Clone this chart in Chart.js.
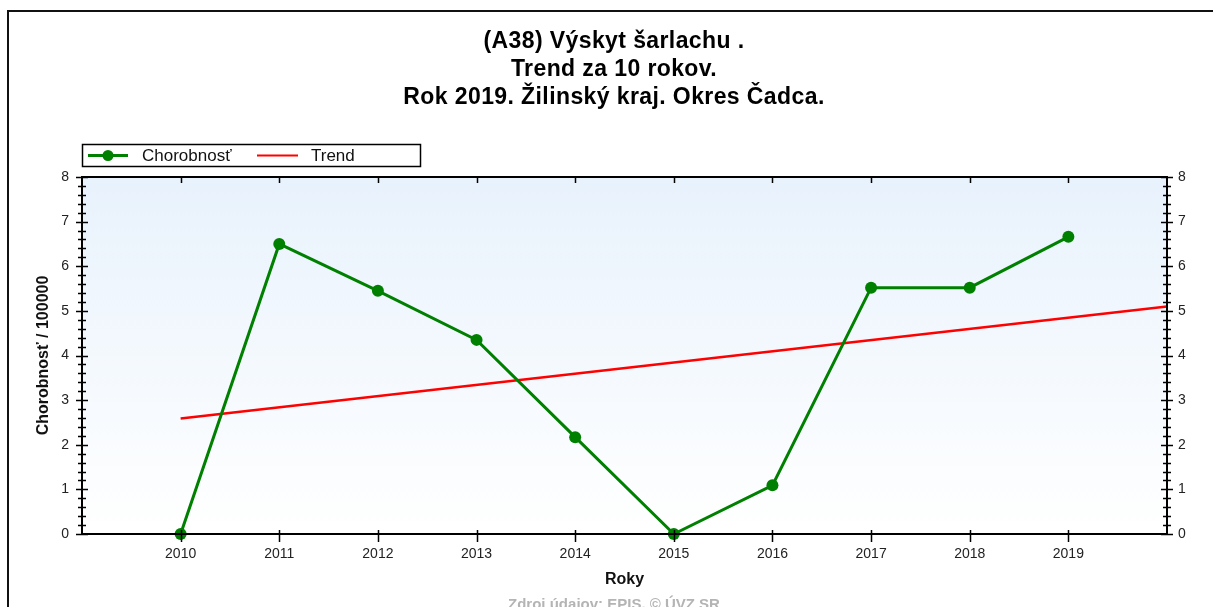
<!DOCTYPE html>
<html lang="sk">
<head>
  <meta charset="UTF-8" />
  <title>Výskyt šarlachu - Okres Čadca</title>
  <script src="https://cdn.jsdelivr.net/npm/chart.js"></script>
  <style>
    html, body { margin: 0; padding: 0; background: #fff; }
    .wrap { width: 1213px; height: 607px; }
  </style>
</head>
<body>

<div class="wrap">
  <canvas id="trendChart" width="1213" height="607" role="img" aria-label="Výskyt šarlachu, trend za 10 rokov"></canvas>
</div>

<script>
  const years = [2010, 2011, 2012, 2013, 2014, 2015, 2016, 2017, 2018, 2019];
  const morbidity = [0, 6.5, 5.45, 4.35, 2.17, 0, 1.09, 5.52, 5.52, 6.66];
  const trendYears = [2010, 2020];
  const trendValues = [2.59, 5.1];
  const yTicks = [0, 1, 2, 3, 4, 5, 6, 7, 8];

  const titleLines = ['(A38) Výskyt šarlachu .', 'Trend za 10 rokov.', 'Rok 2019. Žilinský kraj. Okres Čadca.'];
  const legendItems = ['Chorobnosť', 'Trend'];
  const sourceText = 'Zdroj údajov: EPIS, © ÚVZ SR';

  const FONT = '"Liberation Sans", Arial, sans-serif';
  const GREEN = '#008000';
  const RED = '#ff0000';

  // frame, title, background, axes with minor ticks, legend box, footer
  const decor = {
    id: 'decor',
    beforeDatasetsDraw(chart) {
      const { ctx, chartArea: a } = chart;
      const g = ctx.createLinearGradient(0, a.top, 0, a.bottom);
      g.addColorStop(0, '#e8f2fc');
      g.addColorStop(1, '#ffffff');
      ctx.save();
      ctx.fillStyle = g;
      ctx.fillRect(a.left, a.top, a.right - a.left, a.bottom - a.top);
      ctx.restore();
    },
    afterDraw(chart) {
      const { ctx, chartArea: a, scales } = chart;
      ctx.save();

      // outer frame
      ctx.strokeStyle = '#111';
      ctx.lineWidth = 2;
      ctx.beginPath();
      ctx.moveTo(8, 607);
      ctx.lineTo(8, 11);
      ctx.lineTo(1213, 11);
      ctx.stroke();

      // title
      ctx.fillStyle = '#000';
      ctx.font = 'bold 23px ' + FONT;
      ctx.textAlign = 'center';
      ctx.textBaseline = 'middle';
      ctx.letterSpacing = '0.4px';
      titleLines.forEach((t, i) => ctx.fillText(t, 614, 42 + i * 28));
      ctx.letterSpacing = '0px';

      // axes box
      ctx.strokeStyle = '#000';
      ctx.lineWidth = 2;
      ctx.strokeRect(a.left, a.top, a.right - a.left, a.bottom - a.top);

      // y ticks, both sides
      ctx.lineWidth = 1.5;
      const y = scales.y;
      for (let v = 0; v <= 8.0001; v += 0.2) {
        const py = Math.round(y.getPixelForValue(v)) + 0.5;
        const major = Math.abs(v - Math.round(v)) < 0.001;
        const len = major ? 6 : 4;
        ctx.beginPath();
        ctx.moveTo(a.left - len, py);
        ctx.lineTo(a.left + len, py);
        ctx.moveTo(a.right - len, py);
        ctx.lineTo(a.right + len, py);
        ctx.stroke();
      }

      // x ticks, bottom and top
      const x = scales.x;
      for (let yr = 2010; yr <= 2019; yr++) {
        const px = Math.round(x.getPixelForValue(yr)) + 0.5;
        ctx.beginPath();
        ctx.moveTo(px, a.bottom - 4);
        ctx.lineTo(px, a.bottom + 8);
        ctx.moveTo(px, a.top);
        ctx.lineTo(px, a.top + 6);
        ctx.stroke();
      }

      // legend
      ctx.lineWidth = 1.5;
      ctx.strokeStyle = '#000';
      ctx.strokeRect(82.5, 144.5, 338, 22);
      ctx.lineWidth = 3;
      ctx.strokeStyle = GREEN;
      ctx.beginPath();
      ctx.moveTo(88, 155.5);
      ctx.lineTo(128, 155.5);
      ctx.stroke();
      ctx.fillStyle = GREEN;
      ctx.beginPath();
      ctx.arc(108, 155.5, 5.5, 0, Math.PI * 2);
      ctx.fill();
      ctx.strokeStyle = RED;
      ctx.lineWidth = 2;
      ctx.beginPath();
      ctx.moveTo(257, 155.5);
      ctx.lineTo(298, 155.5);
      ctx.stroke();
      ctx.fillStyle = '#111';
      ctx.font = '17px ' + FONT;
      ctx.textAlign = 'left';
      ctx.fillText(legendItems[0], 142, 156);
      ctx.fillText(legendItems[1], 311, 156);

      // source
      ctx.fillStyle = '#b4b4b4';
      ctx.font = 'bold 15px ' + FONT;
      ctx.textAlign = 'center';
      ctx.fillText(sourceText, 614, 605);

      ctx.restore();
    }
  };

  new Chart(document.getElementById('trendChart'), {
    type: 'line',
    data: {
      datasets: [{
        label: legendItems[0],
        data: years.map((yr, i) => ({ x: yr, y: morbidity[i] })),
        borderColor: GREEN,
        backgroundColor: GREEN,
        borderWidth: 3,
        pointRadius: 6,
        pointBackgroundColor: GREEN,
        pointBorderWidth: 0,
        tension: 0,
        clip: false,
        order: 1
      }, {
        label: legendItems[1],
        data: trendYears.map((yr, i) => ({ x: yr, y: trendValues[i] })),
        borderColor: RED,
        borderWidth: 2.5,
        pointRadius: 0,
        tension: 0,
        clip: false,
        order: 2
      }]
    },
    options: {
      responsive: false,
      animation: false,
      layout: { padding: { left: 0, right: 0, top: 177, bottom: 13 } },
      plugins: {
        legend: { display: false },
        title: { display: false },
        tooltip: { enabled: false }
      },
      scales: {
        x: {
          type: 'linear',
          min: 2009,
          max: 2020,
          afterFit: s => { s.height = 60; },
          afterBuildTicks: s => { s.ticks = years.map(v => ({ value: v })); },
          ticks: {
            color: '#222',
            padding: 4,
            maxRotation: 0,
            font: { family: FONT, size: 14 },
            callback: v => String(v)
          },
          grid: { display: false },
          border: { display: false },
          title: {
            display: true,
            text: 'Roky',
            color: '#111',
            font: { family: FONT, size: 16, weight: 'bold' },
            padding: { top: 0, bottom: 5 }
          }
        },
        y: {
          position: 'left',
          min: 0,
          max: 8,
          afterFit: s => { s.width = 82; },
          afterBuildTicks: s => { s.ticks = yTicks.map(v => ({ value: v })); },
          ticks: { color: '#222', padding: 5, font: { family: FONT, size: 14 } },
          grid: { display: false },
          border: { display: false },
          title: {
            display: true,
            text: 'Chorobnosť / 100000',
            color: '#111',
            font: { family: FONT, size: 16, weight: 'bold' },
            padding: { top: 34, bottom: 0 }
          }
        },
        y2: {
          position: 'right',
          min: 0,
          max: 8,
          afterFit: s => { s.width = 46; },
          afterBuildTicks: s => { s.ticks = yTicks.map(v => ({ value: v })); },
          ticks: { color: '#222', padding: 3, font: { family: FONT, size: 14 } },
          grid: { display: false },
          border: { display: false }
        }
      }
    },
    plugins: [decor]
  });
</script>

</body>
</html>
